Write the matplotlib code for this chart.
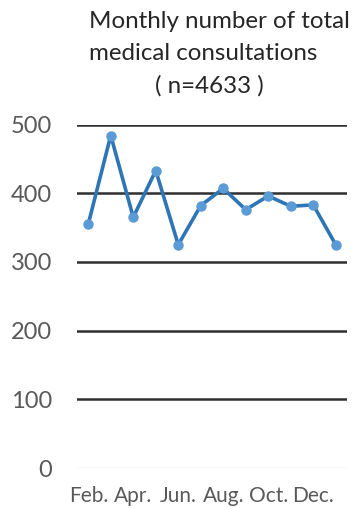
import matplotlib.pyplot as plt

# monthly consultations, Feb through Jan
months = ["Feb.", "Mar.", "Apr.", "May", "Jun.", "Jul.", "Aug.", "Sep.",
          "Oct.", "Nov.", "Dec.", "Jan."]
consultations = [355, 484, 365, 433, 325, 382, 407, 376, 396, 381, 383, 325]
yticks = [0, 100, 200, 300, 400, 500]

plt.rcParams['font.family'] = ['Lato', 'DejaVu Sans']

fig = plt.figure(figsize=(3.57, 5.08), dpi=100)
ax = fig.add_axes([0.2157, 0.0787, 0.7563, 0.6762])

x = list(range(len(months)))
ax.plot(x, consultations, color='#2E75B6', lw=2.6, marker='o', ms=6.5,
        mfc='#5B9BD5', mec='#5B9BD5', zorder=3)

for v in yticks:
    if v == 0:
        ax.axhline(v, color='#d9d9d9', lw=1.0, zorder=1)
    else:
        ax.axhline(v, color='#2f2f2f', lw=1.8, zorder=1)

ax.set_xlim(-0.5, len(months) - 0.5)
ax.set_ylim(0, 500)
ax.set_yticks(yticks)
ax.set_yticklabels([str(v) for v in yticks], fontsize=17, color='#595959')
ax.set_xticks(x[::2])
ax.set_xticklabels(months[::2], fontsize=15, color='#595959')
ax.tick_params(axis='y', length=0, pad=18)
ax.tick_params(axis='x', length=0, pad=13)
for s in ax.spines.values():
    s.set_visible(False)

fig.text(89 / 357, 1 - 22 / 508, "Monthly number of total", fontsize=17.4,
         color='#262626', ha='left', va='center')
fig.text(89 / 357, 1 - 54 / 508, "medical consultations", fontsize=17.4,
         color='#262626', ha='left', va='center')
fig.text(209 / 357, 1 - 86 / 508, "( n=4633 )", fontsize=17.4,
         color='#262626', ha='center', va='center')

fig.savefig('out.png', dpi=100)
